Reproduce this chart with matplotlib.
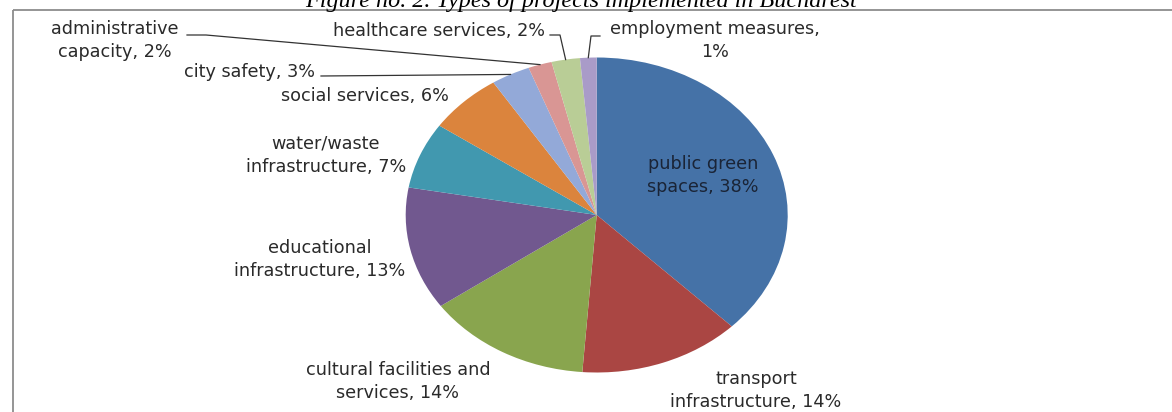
import numpy as np
import matplotlib.pyplot as plt
from matplotlib.patches import Rectangle

# slice shares (percent), clockwise from 12 o'clock
categories = ["public green\nspaces", "transport\ninfrastructure", "cultural facilities and\nservices",
              "educational\ninfrastructure", "water/waste\ninfrastructure", "social services",
              "city safety", "administrative\ncapacity", "healthcare services", "employment measures,\n"]
shares = [37.5, 13.7, 14.0, 12.6, 6.8, 6.3, 3.3, 2.0, 2.4, 1.4]
colors = ["#4572A7", "#AA4643", "#89A54E", "#71588F", "#4198AF", "#DB843D",
          "#93A9D8", "#D99694", "#B9CD96", "#A99BC8"]
title = "Figure no. 2. Types of projects implemented in Bucharest"

W, H = 1172, 412
cx, cy, rx, ry = 596.7, 215.0, 191.0, 157.5

fig = plt.figure(figsize=(W / 100, H / 100), dpi=100)

# pie axes covers the (stretched) ellipse box
pax = fig.add_axes([(cx - rx) / W, (H - cy - ry) / H, 2 * rx / W, 2 * ry / H])
wedges, _ = pax.pie(shares, colors=colors, startangle=90, counterclock=False, radius=1)
pax.set_aspect("auto")
pax.set_xlim(-1, 1)
pax.set_ylim(-1, 1)
pax.axis("off")

# overlay in pixel coords for labels, leader lines and frame
ax = fig.add_axes([0, 0, 1, 1])
ax.set_xlim(0, W)
ax.set_ylim(H, 0)
ax.axis("off")
ax.patch.set_alpha(0)

ax.add_patch(Rectangle((13, 10), W, H, fill=False, ec="#8c8c8c", lw=1.3))
ax.text(581, 7, title, ha="center", va="baseline", fontsize=17.4, style="italic",
        family="Liberation Serif", color="black")

font = dict(family=["DejaVu Sans"], fontsize=12.7, linespacing=1.38)

# label centre x / last-line baseline y (pixels)
label_pos = [(703, 192), (756, 407), (398, 398), (320, 276), (326, 172),
             (365, 101), (250, 77), (115, 57), (439, 36), (715, 57)]
label_col = ["#1a2436"] + ["#2a2a2a"] * 9
for name, s, (x, y), c in zip(categories, shares, label_pos, label_col):
    ax.text(x, y, "{}{}{:.0f}%".format(name, "" if name.endswith("\n") else ", ", round(s)),
            ha="center", va="baseline", color=c, **font)


def edge_point(w):
    a = np.deg2rad((w.theta1 + w.theta2) / 2)
    p = pax.transData.transform((np.cos(a), np.sin(a)))
    return ax.transData.inverted().transform(p)


# leader lines: (start, knee) in pixels, then to slice edge
leaders = {6: [(321, 76)], 7: [(187, 35), (206, 35)], 8: [(550, 35), (560, 35)], 9: [(600, 36), (591, 36)]}
for i, pts in leaders.items():
    ex, ey = edge_point(wedges[i])
    xs = [p[0] for p in pts] + [ex]
    ys = [p[1] for p in pts] + [ey]
    ax.plot(xs, ys, color="#333333", lw=0.9)

fig.savefig("out.png", dpi=100)
